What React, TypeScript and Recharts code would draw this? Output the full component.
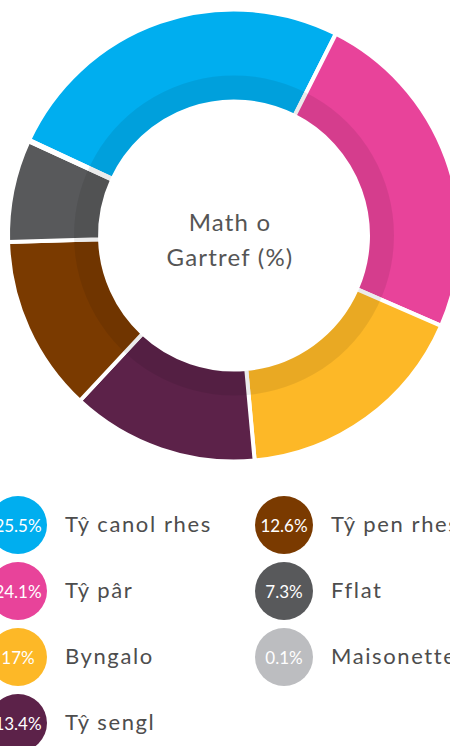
import React from "react";
import { PieChart, Pie, Cell, Legend, Label } from "recharts";

const categories = ["Tŷ canol rhes", "Tŷ pâr", "Byngalo", "Tŷ sengl", "Tŷ pen rhes", "Fflat", "Maisonette"];
const percents = [25.5, 24.1, 17, 13.4, 12.6, 7.3, 0.1];
const colors = ["#00aeef", "#e8439a", "#fdb827", "#5c2249", "#7a3a00", "#58595b", "#bcbdc0"];
const centerLines = ["Math o", "Gartref (%)"];

const data = categories.map((name, i) => ({ name, value: percents[i], color: colors[i] }));
const ring = [{ name: "ring", value: 1 }];

const FONT = "Lato, 'Noto Sans', sans-serif";
const CX = 234;
const CY = 235.5;

const CenterLabel = () => (
  <g>
    <text x={CX - 4} y={CY - 5} textAnchor="middle" fontFamily={FONT} fontSize={24} letterSpacing={1.2} fill="#555">
      {centerLines[0]}
    </text>
    <text x={CX - 4} y={CY + 30} textAnchor="middle" fontFamily={FONT} fontSize={24} letterSpacing={1.2} fill="#555">
      {centerLines[1]}
    </text>
  </g>
);

const LegendBody = () => (
  <div style={{ position: "relative", width: 450, height: 266, fontFamily: FONT }}>
    {data.map((d, i) => {
      const col = i < 4 ? 0 : 1;
      const row = i < 4 ? i : i - 4;
      const cxp = col === 0 ? 18 : 284;
      const cyp = 45 + row * 66;
      return (
        <React.Fragment key={d.name}>
          <div
            style={{
              position: "absolute",
              left: cxp - 29,
              top: cyp - 29,
              width: 58,
              height: 58,
              borderRadius: "50%",
              background: d.color,
              color: "#fff",
              fontSize: 17,
              display: "flex",
              alignItems: "center",
              justifyContent: "center",
              whiteSpace: "nowrap",
            }}
          >
            {d.value}%
          </div>
          <div
            style={{
              position: "absolute",
              left: cxp + 47,
              top: cyp - 15,
              height: 28,
              lineHeight: "28px",
              fontSize: 22,
              color: "#4d4d4d",
              whiteSpace: "nowrap",
              letterSpacing: 1.6,
            }}
          >
            {d.name}
          </div>
        </React.Fragment>
      );
    })}
  </div>
);

export default function App() {
  return (
    <div style={{ position: "absolute", left: 0, top: 0, width: 450, height: 746, overflow: "hidden", background: "#fff" }}>
      <PieChart width={450} height={746} margin={{ top: 0, right: 0, bottom: 0, left: 0 }}>
        <Pie
          data={data}
          dataKey="value"
          nameKey="name"
          cx={CX}
          cy={CY}
          innerRadius={134}
          outerRadius={226}
          startAngle={155}
          endAngle={-205}
          stroke="#fff"
          strokeWidth={4}
          isAnimationActive={false}
        >
          {data.map((d) => (
            <Cell key={d.name} fill={d.color} />
          ))}
          <Label content={<CenterLabel />} position="center" />
        </Pie>
        <Pie
          data={ring}
          dataKey="value"
          cx={CX}
          cy={CY}
          innerRadius={136}
          outerRadius={160}
          startAngle={90}
          endAngle={-270}
          stroke="none"
          fill="#000"
          fillOpacity={0.08}
          isAnimationActive={false}
        />
        <Legend
          content={<LegendBody />}
          wrapperStyle={{ position: "absolute", left: 0, top: 480, width: 450, height: 266 }}
        />
      </PieChart>
    </div>
  );
}
